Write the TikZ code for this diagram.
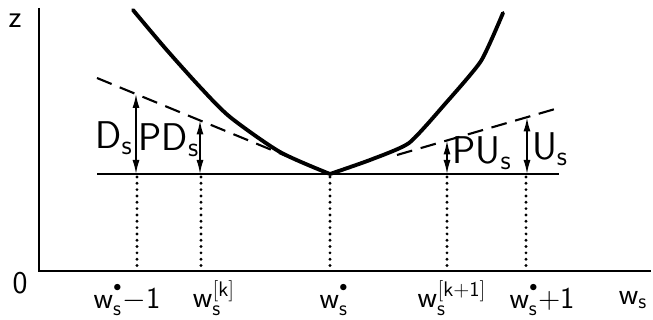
\documentclass[tikz,border=0pt]{standalone}
\usetikzlibrary{arrows.meta}
\renewcommand{\familydefault}{\sfdefault}
% w_s with a mark on top
\newcommand{\wsvar}[1]{$\mathsf{w}_{\mathsf{s}}^{#1}$}
\newcommand{\wdot}{\raisebox{0.45ex}{$\scriptscriptstyle\bullet$}}
\begin{document}
\begin{tikzpicture}[
    x=0.02cm, y=-0.02cm,
    line width=1.3pt,
    color=black,
    % Styles
    curve line/.style={line width=2.2pt, line join=round, line cap=round},
    tangent line/.style={line width=1.2pt, dash pattern=on 9pt off 5pt},
    drop line/.style={line width=1.8pt, dash pattern=on 0pt off 3.6pt, line cap=round},
    gap arrow/.style={line width=0.9pt, {Latex[length=2.8mm,width=1.4mm]}-{Latex[length=2.8mm,width=1.4mm]}},
    gap label/.style={font=\fontsize{22}{26}\selectfont, inner sep=0pt},
    tick label/.style={font=\fontsize{18}{22}\selectfont, inner sep=0pt}
]
    \useasboundingbox (0,0) rectangle (653,320);

    % ==========================
    % Axes
    % ==========================
    \coordinate (origin) at (39,271);
    \coordinate (ztop) at (39,8);
    \coordinate (wend) at (651,271);
    \draw (ztop) -- (origin) -- (wend);
    \node[tick label] (zlabel) at (15,21) {z};
    \node[tick label] (zero) at (20,283) {0};
    \node[tick label] (wlabel) at (633,300) {$\mathsf{w}_{\mathsf{s}}$};

    % ==========================
    % Cost curve, two branches
    % ==========================
    \coordinate (minpt) at (330,174);
    \draw[curve line] plot[smooth, tension=0.45] coordinates
        {(133,10) (165,48) (200,87) (230,117) (280,152) (330,174)};
    \draw[curve line] plot[smooth, tension=0.35] coordinates
        {(330,174) (370,160) (409,143) (445,104) (481,61) (503,13)};

    % ==========================
    % Tangents and base level
    % ==========================
    \coordinate (dstart) at (97,78);
    \coordinate (dend) at (290,157.5);
    \coordinate (ustart) at (397,155);
    \coordinate (uend) at (562,107);
    \draw[tangent line] (dstart) -- (dend);
    \draw[tangent line] (ustart) -- (uend);

    \coordinate (baseL) at (97,174);
    \coordinate (baseR) at (559,174);
    \draw (baseL) -- (baseR);

    % ==========================
    % Gaps D_s, PD_s, PU_s, U_s
    % ==========================
    \coordinate (dtop) at (136,94);
    \coordinate (dbot) at (136,174);
    \coordinate (pdtop) at (200,120.5);
    \coordinate (pdbot) at (200,174);
    \coordinate (putop) at (447,140.5);
    \coordinate (pubot) at (447,174);
    \coordinate (utop) at (527,117.5);
    \coordinate (ubot) at (527,174);
    \draw[gap arrow] (dbot) -- (dtop);
    \draw[gap arrow] (pdbot) -- (pdtop);
    \draw[gap arrow] (pubot) -- (putop);
    \draw[gap arrow] (ubot) -- (utop);

    \node[gap label] (dlabel) at (114,138) {D\textsubscript{s}};
    \node[gap label] (pdlabel) at (169,140) {PD\textsubscript{s}};
    \node[gap label] (pulabel) at (482,153) {PU\textsubscript{s}};
    \node[gap label] (ulabel) at (550,149) {U\textsubscript{s}};

    % ==========================
    % Drop lines to the w_s axis
    % ==========================
    \foreach \xp/\name in {137/a, 201/b, 447/d, 526/e} {
        \coordinate (top\name) at (\xp,177);
        \coordinate (foot\name) at (\xp,268);
        \draw[drop line] (top\name) -- (foot\name);
    }
    \coordinate (footc) at (330,268);
    \draw[drop line] (minpt) ++(0,3) coordinate (topc) -- (footc);

    \node[tick label] (wm) at (127,300) {\wsvar{\wdot}$\mathsf{-1}$};
    \node[tick label] (wk) at (214,298) {\wsvar{\mathsf{[k]}}};
    \node[tick label] (wo) at (334,300) {\wsvar{\wdot}};
    \node[tick label] (wk1) at (452,298) {\wsvar{\mathsf{[k+1]}}};
    \node[tick label] (wp) at (542,300) {\wsvar{\wdot}$\mathsf{+1}$};

\end{tikzpicture}
\end{document}
